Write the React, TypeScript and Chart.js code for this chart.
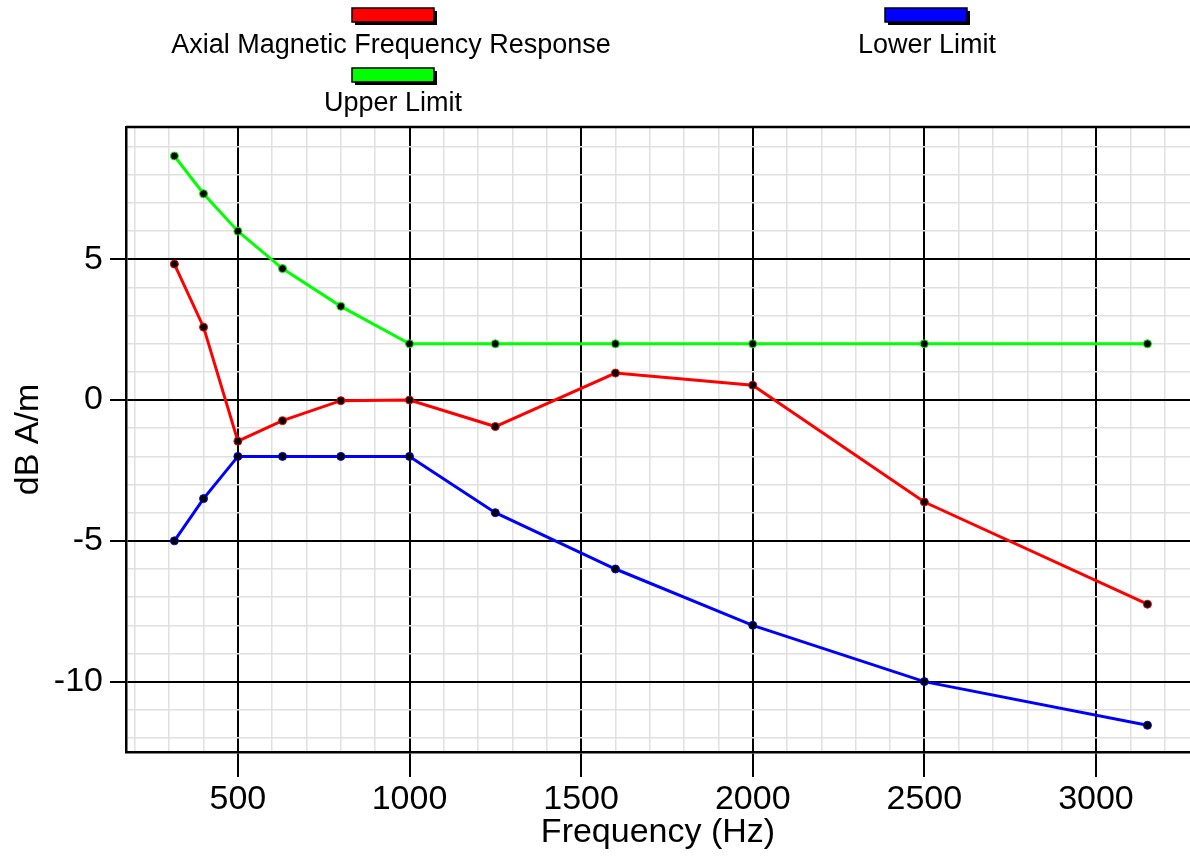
import React, { useEffect, useRef } from "react";
import { Chart, registerables } from "chart.js";

Chart.register(...registerables);

const frequencies = [315, 400, 500, 630, 800, 1000, 1250, 1600, 2000, 2500, 3150];
const responseValues = [4.83, 2.59, -1.46, -0.73, -0.02, 0.0, -0.94, 0.96, 0.53, -3.62, -7.25];
const upperLimitValues = [8.67, 7.33, 6, 4.67, 3.33, 2, 2, 2, 2, 2, 2];
const lowerLimitValues = [-5, -3.5, -2, -2, -2, -2, -4, -6, -8, -10, -11.55];

const seriesNames = ["Axial Magnetic Frequency Response", "Upper Limit", "Lower Limit"];
const seriesColors = ["#ff0000", "#00ff00", "#0000ff"];

const xGridValues = [200, 300, 400, 500, 600, 700, 800, 900, 1000, 1100, 1200, 1300, 1400, 1500, 1600, 1700, 1800, 1900, 2000, 2100, 2200, 2300, 2400, 2500, 2600, 2700, 2800, 2900, 3000, 3100, 3200];
const xLabelValues = [500, 1000, 1500, 2000, 2500, 3000];
const yGridValues = [-12, -11, -10, -9, -8, -7, -6, -5, -4, -3, -2, -1, 0, 1, 2, 3, 4, 5, 6, 7, 8, 9];
const yLabelValues = [-10, -5, 0, 5];

const xTitle = "Frequency (Hz)";
const yTitle = "dB A/m";

const FONT = "'Liberation Sans', Arial, Helvetica, sans-serif";

const legendLayout = [
  { box: [352, 8], text: [391, 46] },
  { box: [352, 68], text: [393, 104] },
  { box: [885, 8], text: [927, 46] },
];

const legendPlugin = {
  id: "customLegend",
  afterDraw(chart: any) {
    const ctx = chart.ctx;
    ctx.save();
    legendLayout.forEach((item, i) => {
      const [bx, by] = item.box;
      const w = 82;
      const h = 14;
      ctx.fillStyle = "#000";
      ctx.fillRect(bx + 3, by + 3, w, h);
      ctx.fillStyle = seriesColors[i];
      ctx.fillRect(bx, by, w, h);
      ctx.strokeStyle = "#000";
      ctx.lineWidth = 1.5;
      ctx.strokeRect(bx, by, w, h);
      ctx.fillStyle = "#000";
      ctx.font = `27px ${FONT}`;
      ctx.textAlign = "center";
      ctx.textBaseline = "middle";
      ctx.fillText(seriesNames[i], item.text[0], item.text[1]);
    });
    ctx.restore();
  },
};

const frameTopPlugin = {
  id: "frameTop",
  beforeDatasetsDraw(chart: any) {
    const { ctx, chartArea } = chart;
    ctx.save();
    ctx.strokeStyle = "#000";
    ctx.lineWidth = 2.5;
    ctx.beginPath();
    ctx.moveTo(chartArea.left, chartArea.top);
    ctx.lineTo(chartArea.right, chartArea.top);
    ctx.stroke();
    ctx.restore();
  },
};

function makeData(values: number[]) {
  return frequencies.map((f, i) => ({ x: f, y: values[i] }));
}

export default function App() {
  const canvasRef = useRef<HTMLCanvasElement | null>(null);

  useEffect(() => {
    document.body.style.margin = "0";
    const canvas = canvasRef.current;
    if (!canvas) return;
    const seriesValues = [responseValues, upperLimitValues, lowerLimitValues];
    const chart = new Chart(canvas, {
      type: "line",
      data: {
        datasets: seriesValues.map((vals, i) => ({
          label: seriesNames[i],
          data: makeData(vals),
          borderColor: seriesColors[i],
          borderWidth: 3,
          pointRadius: 4,
          pointBorderWidth: 1,
          pointBackgroundColor: "#000",
          pointBorderColor: seriesColors[i],
          tension: 0,
          fill: false,
        })),
      },
      options: {
        animation: false,
        responsive: false,
        devicePixelRatio: 1,
        layout: { autoPadding: false, padding: { top: 127, right: 0, left: 0, bottom: 0 } },
        plugins: {
          legend: { display: false },
          tooltip: { enabled: false },
        },
        scales: {
          x: {
            type: "linear",
            min: 174,
            max: 3274,
            afterBuildTicks: (scale: any) => {
              scale.ticks = xGridValues.map((v) => ({ value: v }));
            },
            afterFit: (scale: any) => {
              scale.height = 105;
            },
            ticks: {
              autoSkip: false,
              maxRotation: 0,
              color: "#000",
              padding: 2,
              font: { family: FONT, size: 34 },
              callback: (v: any) => (xLabelValues.includes(Number(v)) ? String(v) : ""),
            },
            grid: {
              color: (c: any) => (xLabelValues.includes(c.tick?.value) ? "#000" : "#e0e0e0"),
              lineWidth: (c: any) => (xLabelValues.includes(c.tick?.value) ? 2 : 1.5),
              tickColor: (c: any) => (xLabelValues.includes(c.tick?.value) ? "#000" : "rgba(0,0,0,0)"),
              tickLength: 25,
              tickWidth: 2,
            },
            border: { display: true, color: "#000", width: 2.5 },
            title: {
              display: true,
              text: xTitle,
              color: "#000",
              font: { family: FONT, size: 34, lineHeight: 1 },
              padding: { top: 0, bottom: 7 },
            },
          },
          y: {
            type: "linear",
            min: -12.5,
            max: 9.7,
            afterBuildTicks: (scale: any) => {
              scale.ticks = yGridValues.map((v) => ({ value: v }));
            },
            afterFit: (scale: any) => {
              scale.width = 126;
            },
            ticks: {
              autoSkip: false,
              color: "#000",
              padding: 7,
              font: { family: FONT, size: 34 },
              callback: (v: any) => (yLabelValues.includes(Number(v)) ? String(v) : ""),
            },
            grid: {
              color: (c: any) => (yLabelValues.includes(c.tick?.value) ? "#000" : "#e0e0e0"),
              lineWidth: (c: any) => (yLabelValues.includes(c.tick?.value) ? 2 : 1.5),
              tickColor: (c: any) => (yLabelValues.includes(c.tick?.value) ? "#000" : "rgba(0,0,0,0)"),
              tickLength: 16,
              tickWidth: 2,
            },
            border: { display: true, color: "#000", width: 2.5 },
            title: {
              display: true,
              text: yTitle,
              color: "#000",
              font: { family: FONT, size: 34, lineHeight: 1 },
              padding: { top: 12, bottom: 0 },
            },
          },
        },
      },
      plugins: [frameTopPlugin, legendPlugin],
    } as any);
    return () => chart.destroy();
  }, []);

  return (
    <div style={{ width: 1190, height: 857 }}>
      <canvas ref={canvasRef} width={1190} height={857} />
    </div>
  );
}
